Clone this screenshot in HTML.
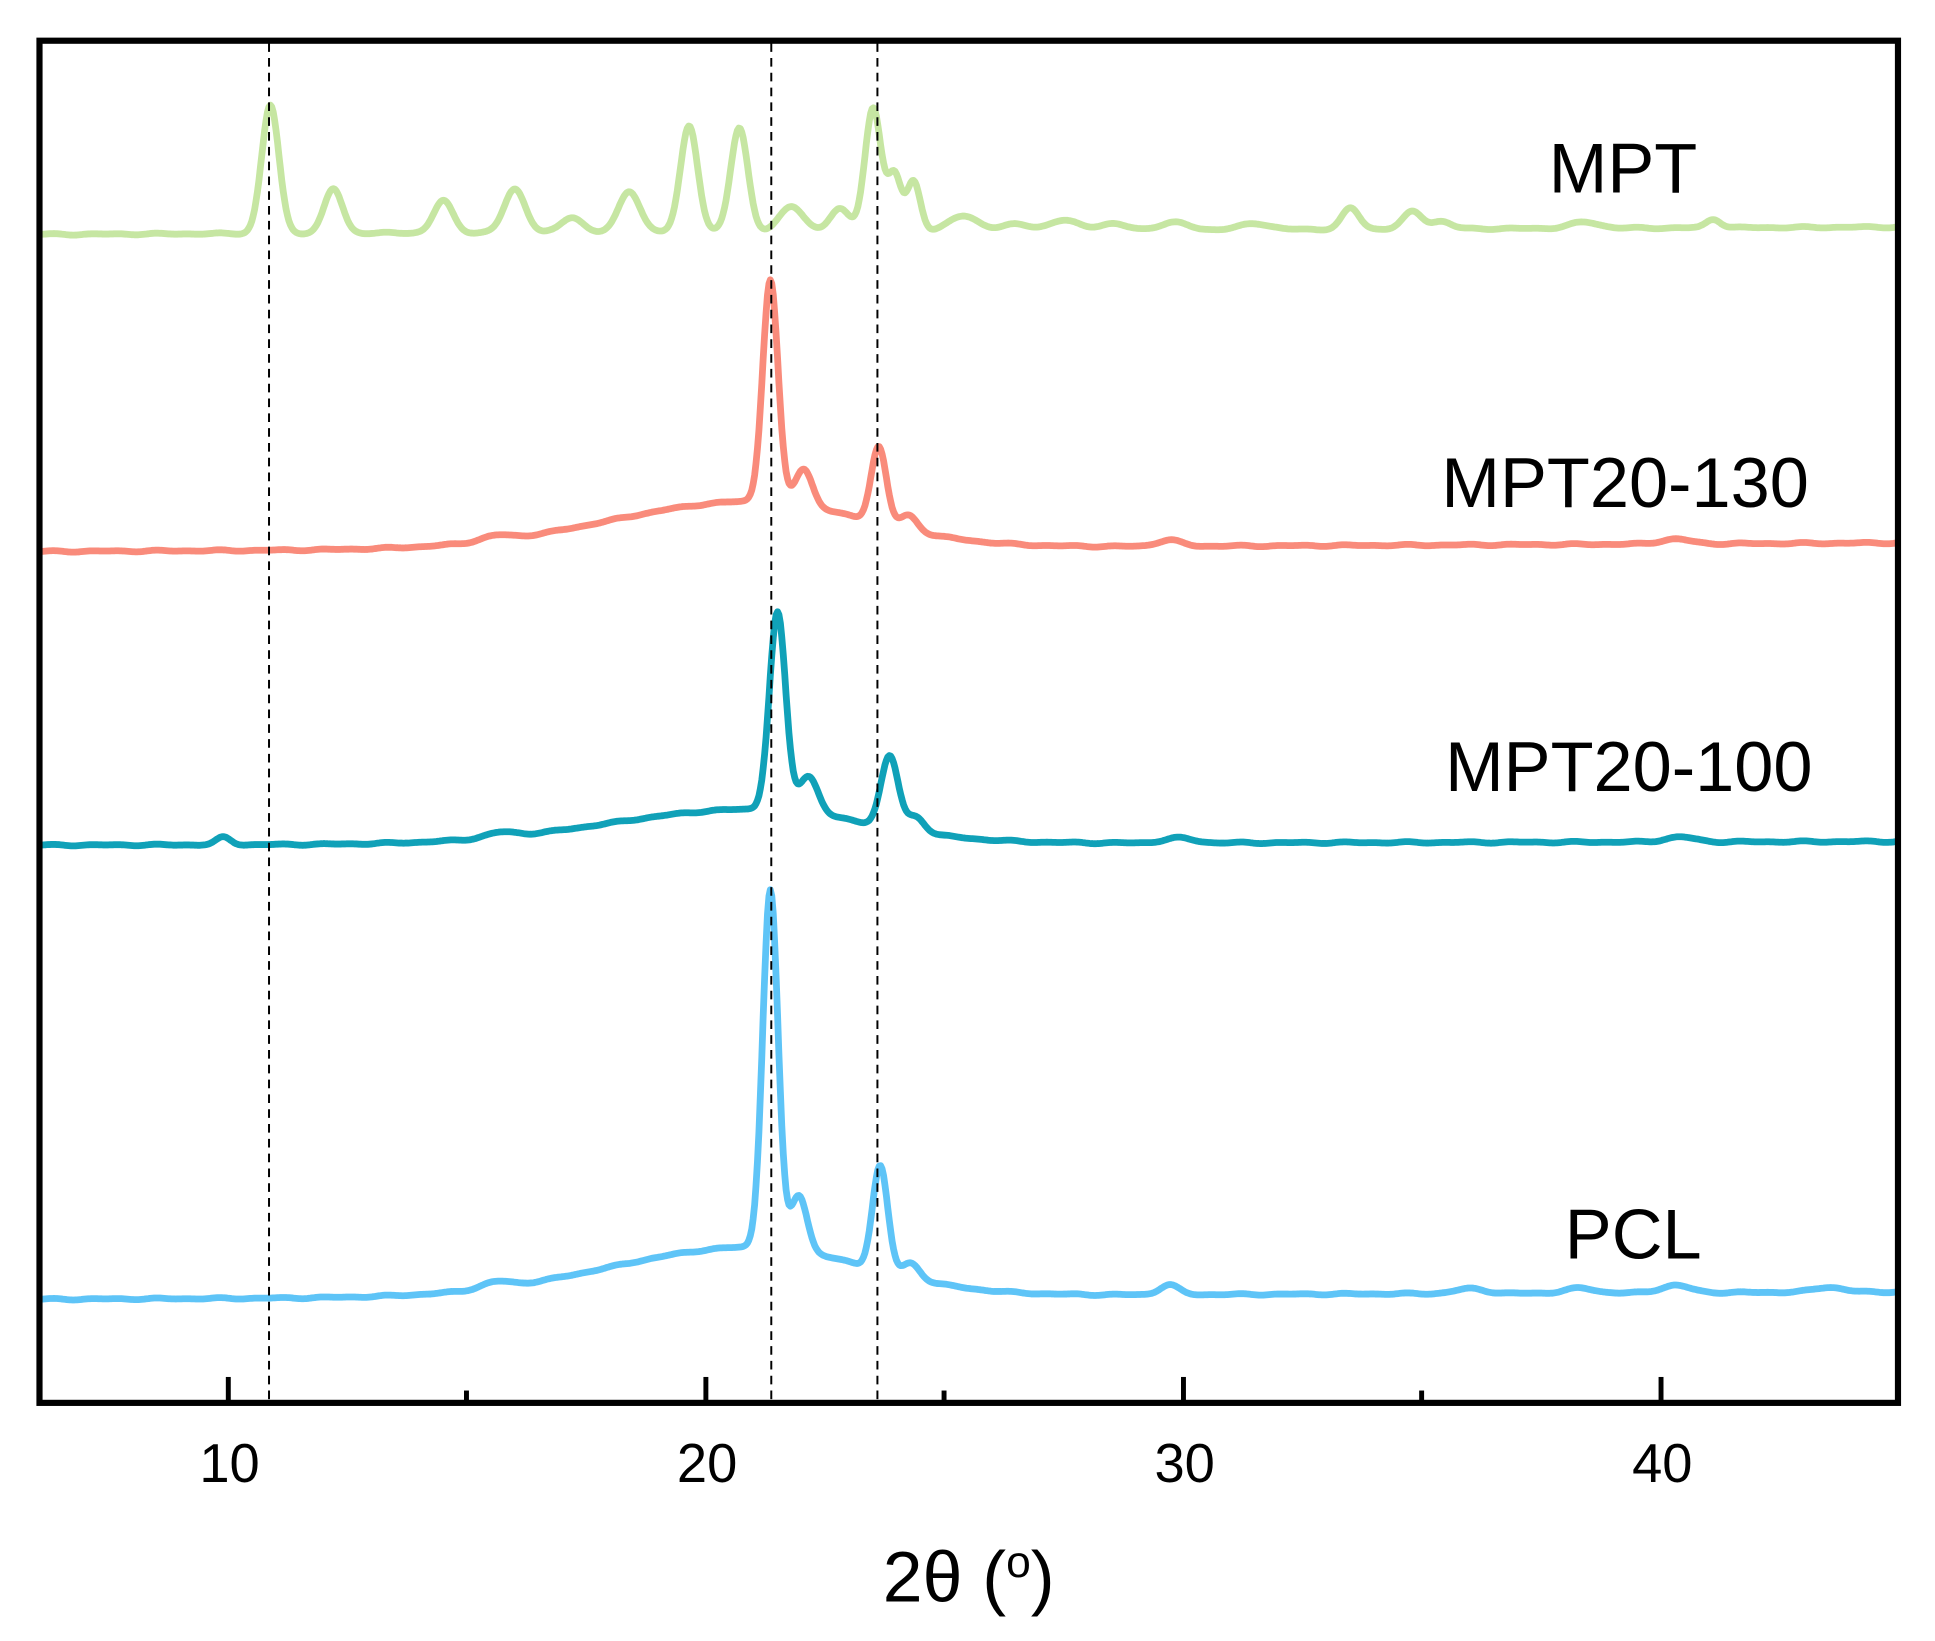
<!DOCTYPE html>
<html><head><meta charset="utf-8"><style>
html,body{margin:0;padding:0;background:#fff;}
svg{display:block;}
text{font-family:"Liberation Sans",Arial,sans-serif;fill:#000;}
</style></head><body>
<svg id="s" width="1935" height="1641" viewBox="0 0 1568 1330" preserveAspectRatio="none" xmlns="http://www.w3.org/2000/svg">
<g id="curves"></g>
<g stroke="#000" stroke-width="1.6" stroke-dasharray="7,5">
<line x1="218" y1="35" x2="218" y2="1136"/>
<line x1="625" y1="35" x2="625" y2="1136"/>
<line x1="711" y1="35" x2="711" y2="1136"/>
</g>
<rect x="32" y="33" width="1506" height="1104" fill="none" stroke="#000" stroke-width="5"/>
<g stroke="#000" stroke-width="4">
<line x1="185" y1="1137" x2="185" y2="1116"/><line x1="572" y1="1137" x2="572" y2="1116"/>
<line x1="959" y1="1137" x2="959" y2="1116"/><line x1="1346" y1="1137" x2="1346" y2="1116"/>
<line x1="378" y1="1137" x2="378" y2="1127"/><line x1="765" y1="1137" x2="765" y2="1127"/>
<line x1="1152" y1="1137" x2="1152" y2="1127"/>
</g>
<g font-size="44" text-anchor="middle">
<text x="186" y="1201">10</text><text x="573" y="1201">20</text>
<text x="960" y="1201">30</text><text x="1347" y="1201">40</text>
</g>
<text x="785" y="1298" font-size="58" text-anchor="middle">2θ (<tspan font-size="36" dy="-20">o</tspan><tspan dy="20">)</tspan></text>
<g font-size="57">
<text x="1255" y="156">MPT</text>
<text x="1168" y="411">MPT20-130</text>
<text x="1171" y="641">MPT20-100</text>
<text x="1268" y="1020">PCL</text>
</g>
</svg>
<script>
function X(t){return 185+(t-10)*38.7;}
function g(t,c,s,a){return a*Math.exp(-0.5*((t-c)/s)*((t-c)/s));}
function hump(t,c,sl,sr,a){var s=t<c?sl:sr;return g(t,c,s,a);}
function mk(col,base0,base1,peaks,extra){
 var d="";
 for(var t=6.05;t<=44.96;t+=0.03){
  var y=base0+(base1-base0)*(t-6)/39;
  var h=0;
  for(var i=0;i<peaks.length;i++){var p=peaks[i];h+=g(t,p[0],p[1],p[2]);}
  if(extra)h+=extra(t);
  h+=Math.sin(t*5.3)*0.4+Math.sin(t*9.1)*0.3;
  d+=(d?"L":"M")+X(t).toFixed(1)+","+(y-h).toFixed(1);
 }
 return '<path d="'+d+'" fill="none" stroke="'+col+'" stroke-width="5.5" stroke-linejoin="round"/>';
}
var html="";
html+=mk("#c6e6a2",190,184,[[10.88,0.18,104],[12.2,0.19,36],[14.5,0.2,26],[16.0,0.22,35],[17.2,0.22,12],[18.4,0.22,33],[19.65,0.18,86],[20.7,0.18,84],[21.8,0.25,20],[22.8,0.2,18],[23.5,0.17,100],[23.95,0.14,45],[24.35,0.14,40],[25.4,0.3,12],[27.5,0.3,8],[29.8,0.3,6],[31.5,0.3,5],[33.5,0.18,17],[34.8,0.2,14],[35.4,0.2,6],[38.4,0.3,5],[41.1,0.15,7],[26.5,0.3,5],[28.5,0.3,5]]);
html+=mk("#f98b7b",447,440,[[21.35,0.16,180],[22.05,0.18,30],[23.62,0.16,62],[24.25,0.18,12],[29.7,0.25,5],[40.3,0.3,4],[15.6,0.3,4]],function(t){return hump(t,21,3,2.3,38);});
html+=mk("#10a1b8",685,682,[[21.5,0.17,160],[22.15,0.2,30],[23.85,0.18,58],[24.4,0.18,12],[9.9,0.15,6],[29.9,0.3,4],[40.4,0.3,4],[15.7,0.3,4]],function(t){return hump(t,21,3,2.3,28);});
html+=mk("#5ec4f7",1053,1047,[[21.35,0.16,290],[21.95,0.17,45],[23.65,0.16,85],[24.3,0.18,12],[29.7,0.2,8],[36,0.3,4],[38.3,0.3,4],[40.3,0.3,6],[43.5,0.3,4],[15.6,0.3,5]],function(t){return hump(t,21,3,2.3,40);});
document.getElementById("curves").innerHTML=html;
</script>
</body></html>
